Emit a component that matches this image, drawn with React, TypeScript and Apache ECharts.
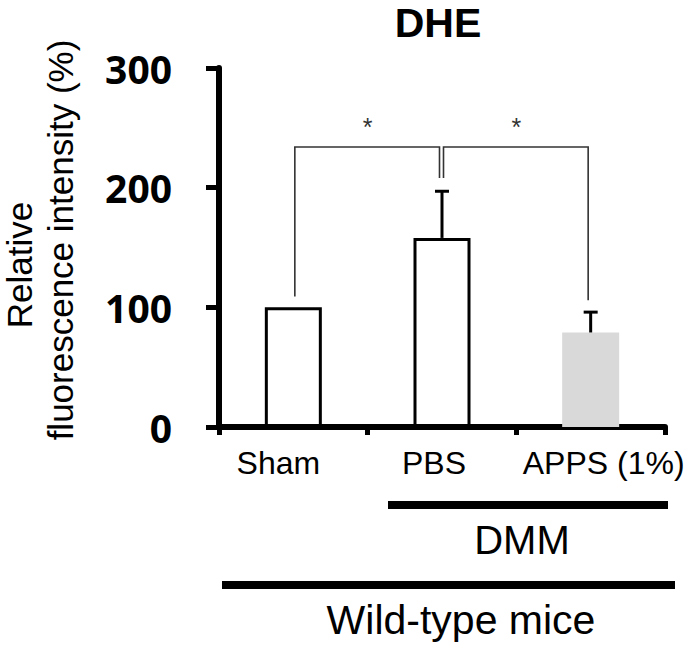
import React, { useEffect, useRef } from "react";
import * as echarts from "echarts";

const categories = ["Sham", "PBS", "APPS (1%)"];
const means = [100, 158, 79];
const errors = [0, 39, 17];
const barFills = ["#ffffff", "#ffffff", "#d9d9d9"];
const barBorderWidths = [3, 3, 0];
const yTickValues = [0, 100, 200, 300];

// significance brackets: [fromIndex, toIndex, topLevel, leftLegEnd, rightLegEnd]
const bracketFrom = [0, 1];
const bracketTo = [1, 2];
const bracketTop = [234, 234];
const bracketLeftEnd = [109, 208];
const bracketRightEnd = [208, 106];
const starLevel = 251;
const starText = "*";

const titleText = "DHE";
const yNameLine1 = "Relative";
const yNameLine2 = "fluorescence intensity (%)";
const groupDMM = "DMM";
const groupWT = "Wild-type mice";

export default function App() {
  const ref = useRef<HTMLDivElement>(null);
  useEffect(() => {
    document.body.style.margin = "0";
    const chart = echarts.init(ref.current!, null, { renderer: "svg" });
    const labelFont = { fontFamily: "Liberation Sans", fontSize: 32, color: "#000" };
    const brackets = bracketFrom.map((f, i) => [f, bracketTo[i], bracketTop[i], bracketLeftEnd[i], bracketRightEnd[i]]);
    const stars = bracketFrom.map((f, i) => [f, bracketTo[i], starLevel]);
    const errData = means
      .map((m, i) => [i, m, m + errors[i]])
      .filter((d, i) => errors[i] > 0);

    chart.setOption({
      animation: false,
      grid: { left: 219, right: 35, top: 68, bottom: 218 },
      xAxis: {
        type: "category",
        data: categories,
        boundaryGap: true,
        axisLine: { lineStyle: { color: "#000", width: 6 } },
        axisTick: { show: true, length: 8, lineStyle: { color: "#000", width: 5 }, interval: 0 },
        axisLabel: {
          interval: 0,
          margin: 20,
          formatter: (v: string, i: number) => `{c${i}|${v}}`,
          rich: {
            c0: { ...labelFont, padding: [0, 30, 0, 0] },
            c1: { ...labelFont, padding: [0, 16, 0, 0] },
            c2: { ...labelFont, padding: [0, 0, 0, 26] },
          },
        },
        splitLine: { show: false },
      },
      yAxis: {
        type: "value",
        min: yTickValues[0],
        max: yTickValues[yTickValues.length - 1],
        interval: 100,
        axisLine: { show: true, lineStyle: { color: "#000", width: 6 } },
        axisTick: { show: true, length: 13, lineStyle: { color: "#000", width: 5 } },
        axisLabel: {
          margin: 47,
          fontFamily: "Open Sans",
          fontWeight: "bold",
          fontSize: 39,
          color: "#000",
        },
        splitLine: { show: false },
      },
      series: [
        {
          type: "bar",
          barWidth: 57,
          silent: true,
          data: means.map((m, i) => ({
            value: m,
            itemStyle: {
              color: barFills[i],
              borderColor: "#000",
              borderWidth: barBorderWidths[i],
            },
          })),
        },
        {
          type: "custom",
          silent: true,
          data: errData,
          encode: { x: 0, y: 2 },
          renderItem: (params: any, api: any) => {
            const i = api.value(0);
            const base = api.coord([i, api.value(1)]);
            const top = api.coord([i, api.value(2)]);
            const style = { stroke: "#000", lineWidth: 3 };
            return {
              type: "group",
              children: [
                { type: "line", shape: { x1: base[0], y1: base[1], x2: top[0], y2: top[1] }, style },
                { type: "line", shape: { x1: top[0] - 7, y1: top[1], x2: top[0] + 7, y2: top[1] }, style },
              ],
            };
          },
          z: 3,
        },
        {
          type: "custom",
          silent: true,
          data: brackets,
          encode: { x: 0, y: 2 },
          renderItem: (params: any, api: any) => {
            const a = api.value(0);
            const b = api.value(1);
            const topA = api.coord([a, api.value(2)]);
            const topB = api.coord([b, api.value(2)]);
            const endA = api.coord([a, api.value(3)]);
            const endB = api.coord([b, api.value(4)]);
            const xa = topA[0] + 1.5;
            const xb = topB[0] - 2.5;
            return {
              type: "polyline",
              shape: { points: [[xa, endA[1]], [xa, topA[1]], [xb, topB[1]], [xb, endB[1]]] },
              style: { stroke: "#333", lineWidth: 1.6, fill: "none" },
            };
          },
          z: 3,
        },
        {
          type: "custom",
          silent: true,
          data: stars,
          encode: { x: 0, y: 2 },
          renderItem: (params: any, api: any) => {
            const p1 = api.coord([api.value(0), api.value(2)]);
            const p2 = api.coord([api.value(1), api.value(2)]);
            return {
              type: "text",
              x: (p1[0] + p2[0]) / 2,
              y: p1[1],
              style: {
                text: starText,
                fill: "#333",
                font: '25px "Liberation Sans"',
                align: "center",
                verticalAlign: "middle",
              },
            };
          },
          z: 3,
        },
      ],
      graphic: [
        {
          type: "text",
          x: 438,
          y: 23,
          style: { text: titleText, fill: "#000", font: 'bold 41px "Liberation Sans"', align: "center", verticalAlign: "middle" },
        },
        {
          type: "text",
          x: 19,
          y: 265,
          rotation: Math.PI / 2,
          style: { text: yNameLine1, fill: "#000", font: '35px "Liberation Sans"', align: "center", verticalAlign: "middle" },
        },
        {
          type: "text",
          x: 60,
          y: 240,
          rotation: Math.PI / 2,
          style: { text: yNameLine2, fill: "#000", font: '35px "Liberation Sans"', align: "center", verticalAlign: "middle" },
        },
        {
          type: "line",
          shape: { x1: 388, y1: 505, x2: 668, y2: 505 },
          style: { stroke: "#000", lineWidth: 8 },
        },
        {
          type: "text",
          x: 522,
          y: 540,
          style: { text: groupDMM, fill: "#000", font: '40px "Liberation Sans"', align: "center", verticalAlign: "middle" },
        },
        {
          type: "line",
          shape: { x1: 222, y1: 585, x2: 675, y2: 585 },
          style: { stroke: "#000", lineWidth: 8 },
        },
        {
          type: "text",
          x: 461,
          y: 620,
          style: { text: groupWT, fill: "#000", font: '41px "Liberation Sans"', align: "center", verticalAlign: "middle" },
        },
      ],
    });
    return () => chart.dispose();
  }, []);
  return <div ref={ref} style={{ width: 700, height: 645 }} />;
}
